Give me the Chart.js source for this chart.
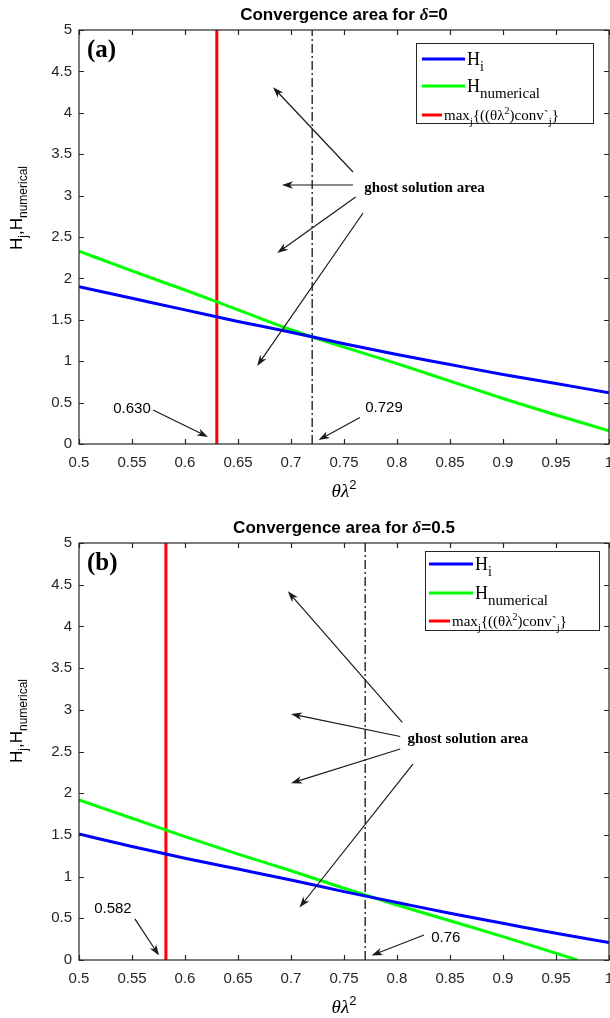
<!DOCTYPE html>
<html>
<head>
<meta charset="utf-8">
<script src="https://cdn.jsdelivr.net/npm/chart.js@4.4.1/dist/chart.umd.min.js"></script>
<style>
  html, body { margin: 0; padding: 0; background: #fff; }
  canvas { display: block; }
</style>
</head>
<body>
<canvas id="chartA" width="610" height="509"></canvas>
<canvas id="chartB" width="610" height="509"></canvas>
<script>
// x values (theta*lambda^2)
const thetaLambda = [0.5, 0.55, 0.6, 0.65, 0.7, 0.75, 0.8, 0.85, 0.9, 0.95, 1.0];
const thetaLambdaNumB = [0.5, 0.55, 0.6, 0.65, 0.7, 0.75, 0.8, 0.85, 0.9, 0.97];

// panel (a): delta = 0
const hjA   = [1.90, 1.76, 1.62, 1.48, 1.35, 1.21, 1.08, 0.96, 0.84, 0.73, 0.62];
const hnumA = [2.33, 2.09, 1.86, 1.62, 1.38, 1.17, 0.97, 0.76, 0.55, 0.35, 0.16];
const convMaxA = 0.63;
const crossA = 0.72;

// panel (b): delta = 0.5
const hjB   = [1.51, 1.36, 1.22, 1.09, 0.96, 0.82, 0.69, 0.56, 0.44, 0.32, 0.21];
const hnumB = [1.92, 1.70, 1.48, 1.27, 1.07, 0.86, 0.66, 0.47, 0.28, 0.0];
const convMaxB = 0.582;
const crossB = 0.77;

// annotations, in data units: [fromX, fromY, toX, toY]
const ghostArrowsA = [[0.7585, 3.285, 0.683, 4.31], [0.7585, 3.128, 0.6915, 3.128],
                      [0.761, 2.983, 0.687, 2.307], [0.768, 2.79, 0.668, 0.942]];
const ghostTextA = [0.769, 3.09];
const notesA = [
  { text: '0.630', at: [0.55, 0.42], from: [0.5698, 0.41], to: [0.6217, 0.085] },
  { text: '0.729', at: [0.7877, 0.435], from: [0.765, 0.32], to: [0.726, 0.048] }
];
const ghostArrowsB = [[0.805, 2.85, 0.697, 4.42], [0.803, 2.68, 0.700, 2.95],
                      [0.803, 2.53, 0.700, 2.12], [0.815, 2.35, 0.708, 0.63]];
const ghostTextB = [0.81, 2.65];
const notesB = [
  { text: '0.582', at: [0.532, 0.61], from: [0.5527, 0.494], to: [0.5755, 0.054] },
  { text: '0.76', at: [0.846, 0.267], from: [0.8255, 0.30], to: [0.776, 0.054] }
];

const xMin = 0.5, xMax = 1.0, yMin = 0, yMax = 5;
const INK = '#262626';
const SANS = '"Liberation Sans", Arial, sans-serif';
const SERIF = '"Liberation Serif", "Times New Roman", serif';

function pts(xs, ys) { return xs.map((x, i) => ({ x: x, y: ys[i] })); }

function drawArrow(ctx, x0, y0, x1, y1) {
  const a = Math.atan2(y1 - y0, x1 - x0), L = 11, W = 3.8;
  ctx.beginPath();
  ctx.moveTo(x0, y0);
  ctx.lineTo(x1 - Math.cos(a) * 6, y1 - Math.sin(a) * 6);
  ctx.stroke();
  ctx.save();
  ctx.translate(x1, y1);
  ctx.rotate(a);
  ctx.beginPath();
  ctx.moveTo(0, 0);
  ctx.lineTo(-L, -W);
  ctx.lineTo(-L * 0.72, 0);
  ctx.lineTo(-L, W);
  ctx.closePath();
  ctx.fill();
  ctx.restore();
}

// draws text made of pieces [text, font, dy]
function rich(ctx, parts, x, y, center) {
  ctx.textAlign = 'left';
  let w = 0;
  parts.forEach(p => { ctx.font = p[1]; w += ctx.measureText(p[0]).width; });
  let cx = center ? x - w / 2 : x;
  parts.forEach(p => {
    ctx.font = p[1];
    ctx.fillText(p[0], cx, y + (p[2] || 0));
    cx += ctx.measureText(p[0]).width;
  });
}

function makePanel(id, opts) {
  const decor = {
    id: 'decor',
    afterDraw(chart) {
      const ctx = chart.ctx, a = chart.chartArea;
      const xs = chart.scales.x, ys = chart.scales.y;
      const px = v => xs.getPixelForValue(v), py = v => ys.getPixelForValue(v);
      ctx.save();

      // axes box and inward ticks
      ctx.strokeStyle = INK;
      ctx.lineWidth = 1.2;
      ctx.strokeRect(a.left, a.top, a.right - a.left, a.bottom - a.top);
      ctx.beginPath();
      xs.ticks.forEach(t => {
        const x = Math.round(px(t.value)) + 0.5;
        ctx.moveTo(x, a.bottom); ctx.lineTo(x, a.bottom - 5);
        ctx.moveTo(x, a.top); ctx.lineTo(x, a.top + 5);
      });
      ys.ticks.forEach(t => {
        const y = Math.round(py(t.value)) + 0.5;
        ctx.moveTo(a.left, y); ctx.lineTo(a.left + 5, y);
        ctx.moveTo(a.right, y); ctx.lineTo(a.right - 5, y);
      });
      ctx.stroke();

      ctx.fillStyle = '#000';
      ctx.textBaseline = 'alphabetic';
      const cx = (a.left + a.right) / 2;

      // title
      rich(ctx, [['Convergence area for ', 'bold 17px ' + SANS],
                 ['\u03B4', 'italic bold 17px ' + SERIF],
                 ['=' + opts.delta, 'bold 17px ' + SANS]], cx, a.top - 10, true);

      // x label
      rich(ctx, [['\u03B8\u03BB', 'italic 19px ' + SERIF],
                 ['2', '13px ' + SANS, -8]], cx, a.bottom + 53, true);

      // y label
      ctx.save();
      ctx.translate(22, opts.yLabelY);
      ctx.rotate(-Math.PI / 2);
      rich(ctx, [['H', '17px ' + SANS], ['j', '12px ' + SANS, 5], [',', '17px ' + SANS],
                 ['H', '17px ' + SANS], ['numerical', '12px ' + SANS, 5]], 0, 0, true);
      ctx.restore();

      // panel letter
      ctx.font = 'bold 25px ' + SERIF;
      ctx.textAlign = 'left';
      ctx.fillText(opts.letter, a.left + 8, a.top + 27);

      // legend
      const lg = opts.legend;
      const bx = a.left + lg.dx, by = a.top + lg.dy;
      ctx.fillStyle = '#fff';
      ctx.fillRect(bx, by, lg.w, lg.h);
      ctx.strokeStyle = INK;
      ctx.lineWidth = 1;
      ctx.strokeRect(bx + 0.5, by + 0.5, lg.w, lg.h);
      const colors = ['#0000ff', '#00ff00', '#ff0000'];
      const ends = [lg.lx1, lg.lx1, lg.rx1];
      ctx.lineWidth = 3;
      lg.rows.forEach((ry, i) => {
        ctx.strokeStyle = colors[i];
        ctx.beginPath();
        ctx.moveTo(bx + lg.lx0, by + ry);
        ctx.lineTo(bx + ends[i], by + ry);
        ctx.stroke();
      });
      ctx.fillStyle = '#000';
      const tx = bx + lg.lx1 + 2;
      rich(ctx, [['H', '18px ' + SERIF], ['i', '14px ' + SERIF, 6]], tx, by + lg.rows[0] + 6);
      rich(ctx, [['H', '18px ' + SERIF], ['numerical', '15px ' + SERIF, 6]], tx, by + lg.rows[1] + 6);
      rich(ctx, [['max', '15px ' + SERIF], ['j', '11px ' + SERIF, 5],
                 ['{((\u03B8\u03BB', '15px ' + SERIF], ['2', '10px ' + SERIF, -6],
                 [')conv', '15px ' + SERIF], ['`', '15px ' + SERIF], ['j', '11px ' + SERIF, 5],
                 ['}', '15px ' + SERIF]], bx + lg.rx1 + 2, by + lg.rows[2] + 5);

      // ghost solution arrows
      ctx.strokeStyle = '#1a1a1a';
      ctx.fillStyle = '#1a1a1a';
      ctx.lineWidth = 1.2;
      opts.arrows.forEach(r => drawArrow(ctx, px(r[0]), py(r[1]), px(r[2]), py(r[3])));
      ctx.fillStyle = '#000';
      ctx.font = 'bold 15px ' + SERIF;
      ctx.textAlign = 'left';
      ctx.textBaseline = 'middle';
      ctx.fillText('ghost solution area', px(opts.ghost[0]), py(opts.ghost[1]));

      // value notes
      ctx.font = '15px ' + SANS;
      ctx.textAlign = 'center';
      opts.notes.forEach(n => {
        ctx.fillStyle = '#000';
        ctx.fillText(n.text, px(n.at[0]), py(n.at[1]));
        ctx.fillStyle = '#1a1a1a';
        drawArrow(ctx, px(n.from[0]), py(n.from[1]), px(n.to[0]), py(n.to[1]));
      });
      ctx.restore();
    }
  };

  return new Chart(document.getElementById(id), {
    type: 'line',
    data: {
      datasets: [
        { label: 'Hj', data: pts(thetaLambda, opts.hj), borderColor: '#0000ff', borderWidth: 3,
          pointRadius: 0, cubicInterpolationMode: 'monotone', fill: false },
        { label: 'Hnumerical', data: pts(opts.xNum, opts.hnum), borderColor: '#00ff00', borderWidth: 3,
          pointRadius: 0, cubicInterpolationMode: 'monotone', fill: false },
        { label: 'max conv', data: [{ x: opts.conv, y: yMin }, { x: opts.conv, y: yMax }],
          borderColor: '#ff0000', borderWidth: 3, pointRadius: 0 },
        { label: 'cross', data: [{ x: opts.cross, y: yMin }, { x: opts.cross, y: yMax }],
          borderColor: '#333333', borderWidth: 1.5, borderDash: [9, 3, 2, 3], pointRadius: 0 }
      ]
    },
    options: {
      responsive: false,
      animation: false,
      layout: { padding: { top: opts.top, right: 1, left: 0, bottom: 0 } },
      plugins: { legend: { display: false }, tooltip: { enabled: false }, title: { display: false } },
      scales: {
        x: {
          type: 'linear', min: xMin, max: xMax,
          grid: { display: false, drawTicks: false },
          border: { display: false },
          ticks: {
            stepSize: 0.05, padding: 10, maxRotation: 0, autoSkip: false, color: INK,
            font: { family: SANS, size: 15 },
            callback: v => String(Number(v.toFixed(2)))
          },
          afterFit: s => { s.height = opts.xHeight; s.paddingLeft = 0; s.paddingRight = 0; }
        },
        y: {
          min: yMin, max: yMax,
          grid: { display: false, drawTicks: false },
          border: { display: false },
          ticks: {
            stepSize: 0.5, padding: 7, color: INK,
            font: { family: SANS, size: 15 },
            callback: v => String(Number(v.toFixed(1)))
          },
          afterFit: s => { s.width = 79; s.paddingTop = 0; s.paddingBottom = 0; }
        }
      }
    },
    plugins: [decor]
  });
}

makePanel('chartA', {
  hj: hjA, hnum: hnumA, xNum: thetaLambda, conv: convMaxA, cross: crossA,
  delta: '0', letter: '(a)', top: 30, xHeight: 65, yLabelY: 208,
  arrows: ghostArrowsA, ghost: ghostTextA, notes: notesA,
  legend: { dx: 337, dy: 13, w: 177, h: 80, rows: [16, 43, 72], lx0: 6, lx1: 49, rx1: 26 }
});

makePanel('chartB', {
  hj: hjB, hnum: hnumB, xNum: thetaLambdaNumB, conv: convMaxB, cross: crossB,
  delta: '0.5', letter: '(b)', top: 34, xHeight: 58, yLabelY: 212,
  arrows: ghostArrowsB, ghost: ghostTextB, notes: notesB,
  legend: { dx: 346, dy: 8, w: 174, h: 79, rows: [13, 42, 70], lx0: 4, lx1: 48, rx1: 25 }
});
</script>
</body>
</html>
